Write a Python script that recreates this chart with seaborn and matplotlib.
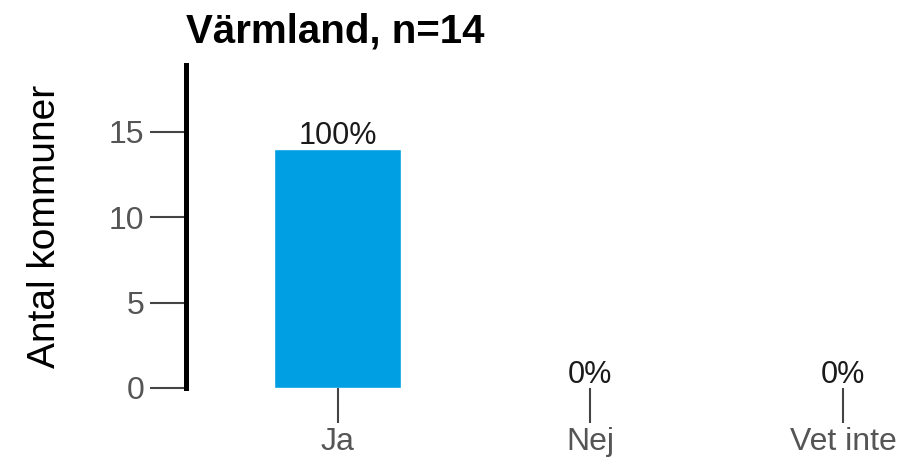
import matplotlib
matplotlib.use("Agg")
import matplotlib.pyplot as plt
import seaborn as sns
import pandas as pd

# Data
categories = ["Ja", "Nej", "Vet inte"]
counts = [14, 0, 0]
n_total = 14
title = "Värmland, n=14"

sns.set_theme(style="white")
plt.rcParams["font.family"] = ["Liberation Sans", "DejaVu Sans"]

df = pd.DataFrame({"svar": categories, "antal": counts})
percent = [f"{round(100 * c / n_total)}%" for c in counts]

fig = plt.figure(figsize=(9, 4.65), dpi=100)
ax = fig.add_axes([0.2067, 0.1656, 0.7933, 0.6946])

sns.barplot(data=df, x="svar", y="antal", color="#009FE3", width=0.5,
            saturation=1, ax=ax)

# percent labels just above each bar
for i, (c, p) in enumerate(zip(counts, percent)):
    ax.annotate(p, (i, c), xytext=(0, -1.5), textcoords="offset points",
                ha="center", va="bottom", fontsize=22, color="#1a1a1a")

ax.set_xlim(-0.6, 2.225)
ax.set_ylim(0, 18.9)
ax.set_yticks([0, 5, 10, 15])

for s in ["top", "right", "bottom"]:
    ax.spines[s].set_visible(False)
ax.spines["left"].set_linewidth(3.6)
ax.spines["left"].set_color("black")

ax.tick_params(axis="y", length=26, width=1.5, color="#444444",
               labelsize=23, labelcolor="#555555", pad=4, left=True)
ax.tick_params(axis="x", length=25, width=1.5, color="#444444",
               labelsize=23, labelcolor="#555555", pad=3, bottom=True)

ax.set_xlabel("")
ax.set_ylabel("Antal kommuner", fontsize=28, color="black", labelpad=33)
ax.set_title(title, loc="left", fontsize=29, fontweight="bold",
             color="black", pad=16)

fig.savefig("out.png", dpi=100)
